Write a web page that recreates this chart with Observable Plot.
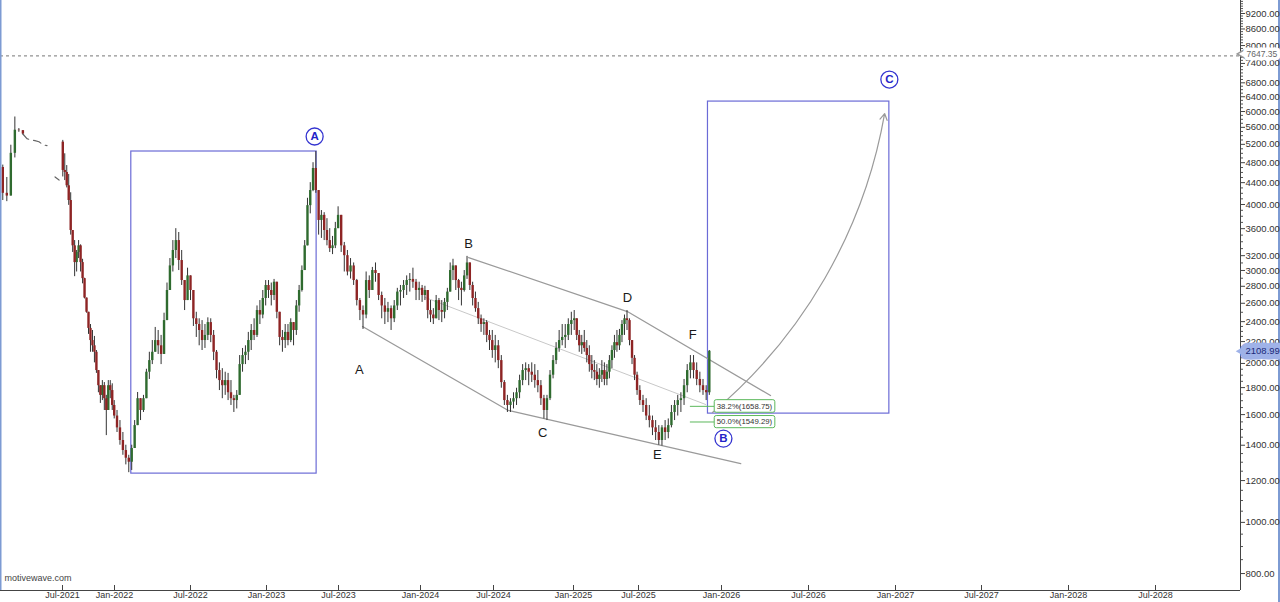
<!DOCTYPE html>
<html><head><meta charset="utf-8">
<script src="https://cdn.jsdelivr.net/npm/d3@7"></script>
<script src="https://cdn.jsdelivr.net/npm/@observablehq/plot@0.6"></script>
<style>
html,body{margin:0;padding:0;background:#fff;overflow:hidden;}
#chart svg{display:block;box-shadow: inset -2px 0 0 #7d9bd3;}
</style></head><body><div id="chart"></div><script>
// ---- x scale anchors (bar-based time axis of the original) ----
const xAnchorDates = ["2021-03-15","2021-07-01","2022-01-01","2022-07-01","2023-01-01","2023-07-01","2024-01-01","2024-07-01","2025-01-01","2025-07-01","2026-01-01","2026-07-01","2027-01-01","2027-07-01","2028-01-01","2028-07-01","2028-12-26"];
const xAnchorPx = [0,62,114,190,266,338,420,493,573,638,721,808,895,981,1068,1155,1240];
const xTickDates = ["2021-07-01","2022-01-01","2022-07-01","2023-01-01","2023-07-01","2024-01-01","2024-07-01","2025-01-01","2025-07-01","2026-01-01","2026-07-01","2027-01-01","2027-07-01","2028-01-01","2028-07-01"];
const yDomain = [743, 9737];
const yTicks = [800,1000,1200,1400,1600,1800,2000,2200,2400,2600,2800,3000,3200,3600,4000,4400,4800,5200,5600,6000,6400,6800,7400,8000,8600,9200];

// ---- early candles (weekly, from 2021-03-19) ----
const earlyStart = "2021-03-19";
const earlyOpen = 4700;
const earlyHigh = [4750,4500,5180,5858,5570,5520];
const earlyLow = [4070,4050,4150,4900,5480,5420];
const earlyClose = [4200,4150,5000,5530,5520,5440];
// sparse trades (weekly, from 2021-04-30); null marks a break between the dashes
const sparseStart = "2021-04-30";
const sparsePrice = [5330,5300,5286,5260,5190,5170,null,4510,4450];

// ---- main weekly candles (from 2021-07-02 to 2025-12-05) ----
const mainStart = "2021-07-02";
const mainOpen = 5250;
const mainHigh = [
5290,4990,4740,4560,4210,3540,3418,3273,3418,3355,3150,2900,2660,2500,2370,2309,2250,2116,1939,1815,1856,1840,1740,1856,1856,1830,1701,
1629,1559,1480,1400,1340,1400,1559,1762,1715,1740,1950,2100,2210,2340,2309,2260,2490,2840,3160,3418,3600,3540,3273,2871,3030,2930,
2749,2500,2430,2411,2370,2440,2430,2309,2116,2005,1955,1925,1915,1856,1740,1777,2070,2135,2160,2290,2370,2430,2570,2631,2749,2871,
2871,2840,2885,2850,2500,2309,2370,2370,2430,2390,2631,2810,3060,3418,4110,4400,4800,5040,4251,3896,3860,3760,3600,3480,3700,3960,
3815,3390,3273,3160,3100,2885,2655,2570,2980,2930,3040,3100,2960,2730,2655,2610,2570,2631,2775,2810,2871,2930,2960,3030,2885,2850,
2810,2800,2749,2631,2540,2690,2655,2631,2655,2775,3100,3150,3060,2885,2850,2999,3190,3100,2850,2730,2610,2470,2430,2411,2309,2309,
2260,2210,2070,1856,1740,1715,1760,1795,1900,1990,2005,1990,2005,1990,1939,1856,1740,1740,1939,2070,2190,2309,2370,2370,2430,2500,
2519,2430,2309,2260,2309,2210,2160,2070,2025,1990,1955,2025,2005,1990,2070,2160,2260,2309,2320,2411,2470,2519,2430,2210,2070,1925,
1815,1740,1715,1665,1590,1559,1525,1525,1559,1570,1665,1701,1740,1760,1865,1990,2070,2070,2005,1925,1865,1815,2116];
const mainLow = [
4510,4440,4300,3985,3500,3245,2920,2980,3160,2980,2830,2650,2490,2270,2100,2100,2005,1915,1760,1680,1701,1629,1460,1629,1715,1629,1570,
1480,1400,1340,1285,1242,1254,1380,1525,1559,1615,1715,1865,1990,2100,2080,1990,2080,2411,2749,2980,3160,2999,2810,2519,2631,2631,
2350,2240,2160,2116,2135,2210,2190,2025,1870,1777,1715,1740,1701,1665,1615,1640,1740,1925,1990,2025,2116,2210,2240,2370,2430,2570,
2655,2570,2631,2430,2160,2100,2135,2160,2190,2160,2260,2500,2730,2999,3340,3840,4230,4200,3500,3450,3418,3340,3245,3215,3300,3600,
3245,2980,2930,2890,2810,2570,2411,2320,2430,2655,2749,2850,2631,2430,2370,2390,2309,2390,2519,2570,2655,2690,2730,2775,2631,2631,
2610,2631,2430,2390,2370,2430,2411,2390,2430,2519,2730,2871,2749,2631,2570,2730,2885,2749,2570,2500,2370,2290,2260,2190,2116,2045,
2005,1955,1795,1665,1615,1615,1640,1665,1715,1815,1856,1815,1840,1795,1760,1665,1570,1559,1701,1870,1990,2100,2160,2135,2210,2260,
2309,2210,2100,2080,2100,2005,1925,1870,1856,1815,1795,1840,1815,1815,1870,1955,2045,2100,2116,2190,2260,2309,2160,1990,1856,1740,
1665,1615,1559,1510,1460,1429,1400,1395,1429,1440,1510,1559,1590,1615,1665,1760,1870,1870,1815,1760,1740,1701,1740];
const mainClose = [
4640,4600,4340,4070,3571,3340,3105,3245,3340,3105,2895,2660,2500,2330,2210,2160,2100,1939,1815,1740,1815,1715,1629,1815,1777,1665,1590,
1510,1429,1368,1323,1300,1380,1525,1715,1629,1715,1925,2025,2100,2210,2160,2080,2411,2749,3060,3273,3418,3133,2871,2631,2930,2749,
2430,2370,2309,2210,2260,2390,2260,2100,1939,1856,1815,1856,1760,1715,1701,1740,1990,2070,2100,2210,2309,2260,2519,2470,2655,2810,
2749,2690,2850,2500,2240,2210,2290,2210,2390,2309,2570,2749,2999,3340,3980,4251,4680,4251,3731,3815,3571,3418,3300,3340,3600,3815,
3340,3200,2980,3060,2871,2631,2519,2470,2871,2749,2999,2960,2690,2570,2500,2540,2430,2570,2730,2749,2810,2871,2885,2850,2749,2775,
2690,2749,2519,2470,2430,2631,2519,2500,2610,2730,2999,3060,2871,2775,2749,2930,3100,2810,2655,2540,2430,2370,2390,2260,2210,2116,
2160,2025,1840,1701,1665,1690,1715,1760,1856,1939,1955,1925,1900,1856,1815,1715,1629,1715,1900,2025,2135,2210,2240,2260,2370,2411,
2430,2260,2160,2190,2135,2070,1990,1939,1925,1865,1900,1939,1865,1925,2025,2116,2190,2160,2260,2370,2430,2411,2210,2045,1900,1777,
1701,1665,1590,1559,1510,1480,1429,1510,1480,1525,1615,1665,1701,1715,1815,1939,2005,1939,1865,1815,1777,1760,2108.99];

// ---- annotations ----
const lastPrice = 2108.99;
const highMark = 7647.35;
const boxes = [
  {x1:"2022-02-10", x2:"2023-05-07", y1:1237, y2:5040},
  {x1:"2025-12-02", x2:"2026-12-19", y1:1607, y2:6266}
];
const circleLabels = [
  {date:"2023-05-02", price:5381, label:"A"},
  {date:"2026-01-05", price:1441, label:"B"},
  {date:"2026-12-19", price:6898, label:"C"}
];
const waveLabels = [
  {date:"2023-08-17", price:1947, label:"A"},
  {date:"2024-04-30", price:3373, label:"B"},
  {date:"2024-10-22", price:1480, label:"C"},
  {date:"2025-05-31", price:2666, label:"D"},
  {date:"2025-08-12", price:1344, label:"E"},
  {date:"2025-10-29", price:2269, label:"F"}
];
const upperLine = [{date:"2024-04-30", price:3174},{date:"2025-05-31", price:2508},{date:"2026-04-13", price:1739}];
const lowerLine = [{date:"2023-08-24", price:2349},{date:"2024-08-04", price:1629},{date:"2026-02-10", price:1292}];
const midLine = [{date:"2024-01-13", price:2666},{date:"2025-11-27", price:1672}];
const fibLevels = [
  {label:"38.2%(1658.75)", value:1658.75, from:"2025-10-24", to:"2025-12-17", boxEnd:"2026-04-23", lo:1613, hi:1704},
  {label:"50.0%(1549.29)", value:1549.29, from:"2025-10-24", to:"2025-12-17", boxEnd:"2026-04-23", lo:1508, hi:1590}
];
const projection = [{x1:"2025-12-12", y1:1615, x2:"2026-12-09", y2:5947}];

// ---- build tables ----
const DAY = 864e5, WEEK = 7*DAY;
const P = s => new Date(s);
const candles = [];
let prev = earlyOpen;
earlyClose.forEach((c,i) => { candles.push({date:new Date(+P(earlyStart)+i*WEEK), open:prev, high:earlyHigh[i], low:earlyLow[i], close:c}); prev = c; });
prev = mainOpen;
mainClose.forEach((c,i) => { candles.push({date:new Date(+P(mainStart)+i*WEEK), open:prev, high:mainHigh[i], low:mainLow[i], close:c}); prev = c; });
const up = candles.filter(d => d.close >= d.open), down = candles.filter(d => d.close < d.open);
const sparse = [{date:new Date(+P(earlyStart)+5*WEEK), price:earlyClose[5]}].concat(sparsePrice.map((p,i)=>({date:new Date(+P(sparseStart)+i*WEEK), price: p == null ? NaN : p})));
const fmtX = d3.utcFormat("%b-%Y");
const minorTicks = d3.range(800, 2400, 50).concat(d3.range(2400, 9800, 100)).filter(v => !yTicks.includes(v));

const FONT = "'Liberation Sans', Arial, sans-serif";
const plot = Plot.plot({
  width: 1280, height: 602,
  marginTop: 0, marginBottom: 12, marginLeft: 0, marginRight: 40,
  style: {fontFamily: FONT, fontSize: "9px", color: "#333", background: "#fff", overflow: "visible"},
  x: {type: "utc", domain: xAnchorDates.map(P), range: xAnchorPx, axis: null, label: null},
  y: {type: "log", domain: yDomain, axis: null, label: null},
  marks: [
    // boxes
    Plot.rect(boxes, {x1: d => P(d.x1), x2: d => P(d.x2), y1: "y1", y2: "y2", fill: "none", stroke: "#6b6bd6", strokeWidth: 1.2}),
    // channel lines
    Plot.line(midLine, {x: d => P(d.date), y: "price", stroke: "#c8c8c8", strokeWidth: 1}),
    Plot.line(upperLine, {x: d => P(d.date), y: "price", stroke: "#9a9a9a", strokeWidth: 1.3}),
    Plot.line(lowerLine, {x: d => P(d.date), y: "price", stroke: "#9a9a9a", strokeWidth: 1.3}),
    // projection arrow
    Plot.arrow(projection, {x1: d => P(d.x1), y1: "y1", x2: d => P(d.x2), y2: "y2", bend: -20, stroke: "#9a9a9a", strokeWidth: 1.2, headLength: 9}),
    // high mark dashed line
    Plot.ruleY([highMark], {stroke: "#777", strokeDasharray: "3,3", strokeWidth: 1}),
    // sparse trades
    Plot.line(sparse, {x: "date", y: "price", stroke: "#666", strokeWidth: 1.2, strokeDasharray: "8,5"}),
    // candles
    Plot.ruleX(candles, {x: "date", y1: "low", y2: "high", stroke: "#333", strokeWidth: 1}),
    Plot.ruleX(up, {x: "date", y1: "open", y2: "close", stroke: "#2f6b2f", strokeWidth: 2.4}),
    Plot.ruleX(down, {x: "date", y1: "open", y2: "close", stroke: "#8e2424", strokeWidth: 2.4}),
    // fib levels
    Plot.ruleY(fibLevels, {y: "value", x1: d => P(d.from), x2: d => P(d.to), stroke: "#5cb85c", strokeWidth: 1}),
    Plot.rect(fibLevels, {x1: d => P(d.to), x2: d => P(d.boxEnd), y1: "lo", y2: "hi", fill: "#fff", stroke: "#5cb85c", strokeWidth: 1, rx: 2}),
    Plot.text(fibLevels, {x: d => P(d.to), y: "value", text: "label", textAnchor: "start", dx: 2, fontSize: 7.8, fill: "#333"}),
    // wave labels
    Plot.text(waveLabels, {x: d => P(d.date), y: "price", text: "label", fontSize: 13, fill: "#1a1a1a"}),
    Plot.dot(circleLabels, {x: d => P(d.date), y: "price", r: 8.5, fill: "#fff", stroke: "#3434d0", strokeWidth: 1.3}),
    Plot.text(circleLabels, {x: d => P(d.date), y: "price", text: "label", fontSize: 11.5, fontWeight: "bold", fill: "#2323c8"}),
    // frame lines
    Plot.ruleY([yDomain[0]], {stroke: "#444", strokeWidth: 1}),
    Plot.ruleX([P(xAnchorDates[xAnchorDates.length-1])], {stroke: "#444", strokeWidth: 1}),
    Plot.ruleX([P(xAnchorDates[0])], {stroke: "#7d9bd3", strokeWidth: 2}),
    // x axis
    Plot.ruleX(xTickDates.map(P), {insetTop: 585, stroke: "#444"}),
    Plot.text(xTickDates.map(P), {x: d => d, text: d => fmtX(d), frameAnchor: "bottom", dy: 7, fontSize: 9, fill: "#333"}),
    // y axis
    Plot.axisY(minorTicks, {anchor: "right", tickSize: 2, tickFormat: () => "", stroke: "#555"}),
    Plot.axisY(yTicks, {anchor: "right", tickSize: 4, tickPadding: 1, tickFormat: d => d.toFixed(2), fontSize: 9.5, stroke: "#444", fill: "#333"}),
    // price tags
    Plot.dot([highMark], {y: d => d, frameAnchor: "right", dx: 3, dy: -2, symbol: "triangle", rotate: -90, r: 4, fill: "#fff", stroke: "#999"}),
    Plot.text([highMark], {y: d => d, text: d => d.toFixed(2), frameAnchor: "right", dx: 6, dy: -2, textAnchor: "start", fontSize: 8.5, fill: "#666", stroke: "#fff", strokeWidth: 7, strokeLinejoin: "round"}),
    Plot.dot([lastPrice], {y: d => d, frameAnchor: "right", dx: 3, symbol: "triangle", rotate: -90, r: 5, fill: "#9fb2e8"}),
    Plot.text([lastPrice], {y: d => d, text: d => d.toFixed(2), frameAnchor: "right", dx: 5, textAnchor: "start", fontSize: 9.5, fill: "#1b2a7a", stroke: "#9fb2e8", strokeWidth: 11, strokeLinejoin: "round"}),
    // watermark
    Plot.text(["motivewave.com"], {frameAnchor: "bottom-left", dx: 4, dy: -10, textAnchor: "start", fontSize: 9, fill: "#444"})
  ]
});
document.getElementById("chart").appendChild(plot);
</script></body></html>
